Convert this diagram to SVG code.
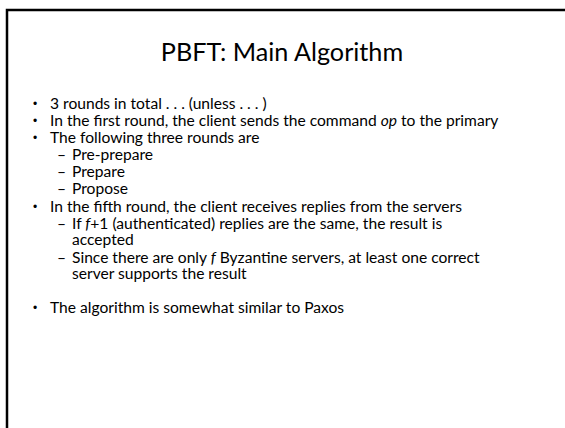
<svg xmlns="http://www.w3.org/2000/svg" width="565" height="428" viewBox="0 0 565 428">
<style>
.t{font-family:Lato,"Open Sans","Liberation Sans",sans-serif;fill:#000}
.b{font-size:15.6px}
.h{font-size:25.2px}
.d{font-family:"Liberation Sans",sans-serif;font-size:12px}
</style>
<rect width="565" height="428" fill="#fff"/>
<path d="M7 428V10H565" fill="none" stroke="#000" stroke-width="2.5"/>
<text class="t h" x="282" y="61" text-anchor="middle">PBFT: Main Algorithm</text>
<g class="t b">
<text class="d" x="33" y="108">•</text><text x="50" y="109">3 rounds in total  . . . (unless . . . )</text>
<text class="d" x="33" y="125">•</text><text x="50" y="126">In the first round, the client sends the command <tspan font-style="italic">op</tspan> to the primary</text>
<text class="d" x="33" y="142">•</text><text x="50" y="143">The following three rounds are</text>
<text x="57" y="160">–</text><text x="72" y="160">Pre-prepare</text>
<text x="57" y="177">–</text><text x="72" y="177">Prepare</text>
<text x="57" y="194">–</text><text x="72" y="194">Propose</text>
<text class="d" x="33" y="211">•</text><text x="50" y="212">In the fifth round, the client receives replies from the servers</text>
<text x="57" y="229">–</text><text x="72" y="229">If <tspan font-style="italic">f</tspan>+1 (authenticated) replies are the same, the result is</text>
<text x="72" y="245">accepted</text>
<text x="57" y="263">–</text><text x="72" y="263">Since there are only <tspan font-style="italic">f</tspan> Byzantine servers, at least one correct</text>
<text x="72" y="279">server supports the result</text>
<text class="d" x="33" y="312">•</text><text x="50" y="313">The algorithm is somewhat similar to Paxos</text>
</g>
</svg>
